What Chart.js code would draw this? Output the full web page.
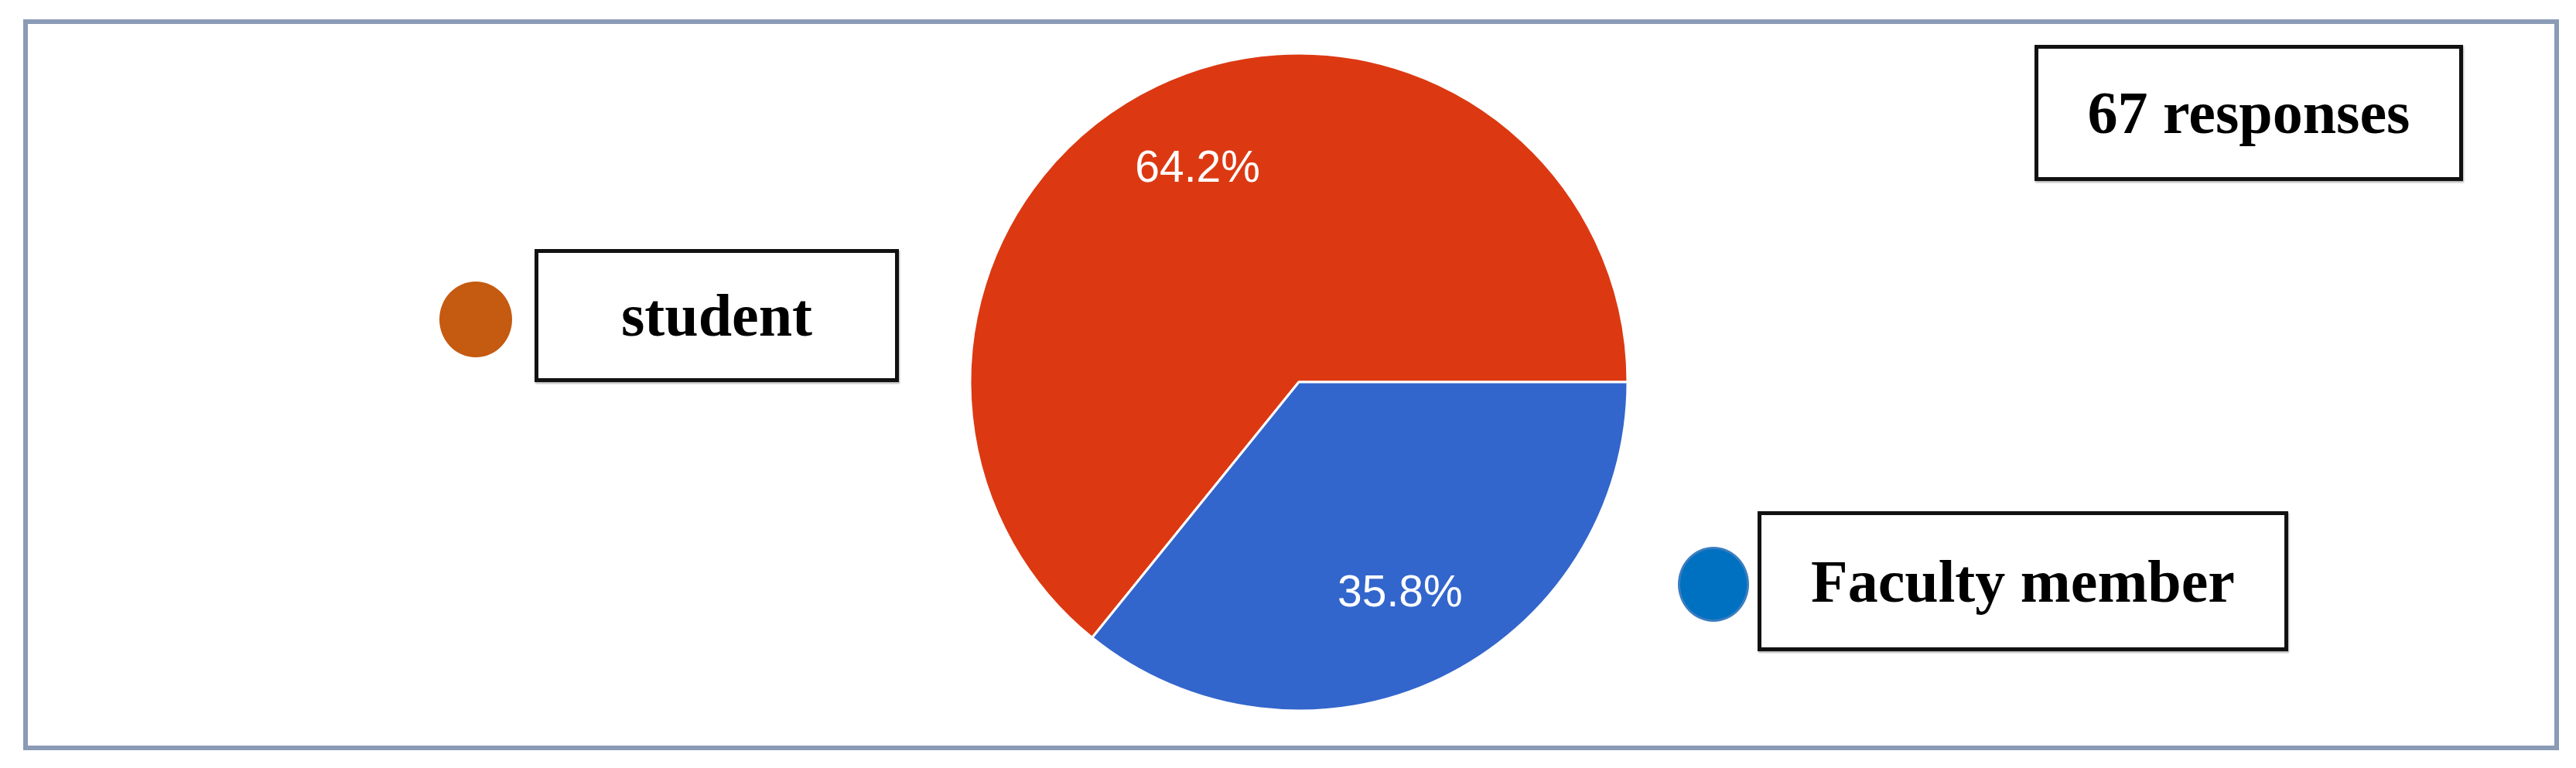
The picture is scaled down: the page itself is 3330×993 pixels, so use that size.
<!DOCTYPE html>
<html>
<head>
<meta charset="utf-8">
<script src="https://cdn.jsdelivr.net/npm/chart.js@4.4.1/dist/chart.umd.min.js"></script>
<style>
  body { margin: 0; background: #fff; }
  #page { position: relative; width: 3330px; height: 993px; overflow: hidden; background: #fff; }
  #frame { position: absolute; left: 30px; top: 25px; width: 3278px; height: 945px; box-sizing: border-box; border: 6px solid #8a9bb6; }
  #pieWrap { position: absolute; left: 1229px; top: 44px; width: 900px; height: 900px; }
  .box {
    position: absolute; box-sizing: border-box; border: 5px solid #111;
    box-shadow: 1px 2px 2px rgba(0, 0, 0, 0.3);
    display: flex; align-items: center; justify-content: center;
    font-family: "Liberation Serif", "Times New Roman", serif; font-weight: bold; font-size: 78px; color: #000;
    background: #fff;
  }
  .dot { position: absolute; border-radius: 50%; box-sizing: border-box; }
</style>
</head>
<body>
<div id="page">
  <div id="frame"></div>
  <div id="pieWrap"><canvas id="myChart" width="900" height="900"></canvas></div>
  <div id="legend"></div>
  <div class="box" id="total" style="left:2630px; top:58px; width:554px; height:176px;"></div>
</div>
<script>
// data
const labels = ["student", "Faculty member"];
const counts = [43, 24]; // 64.2% / 35.8% of 67

const sliceColors = ["#dc3912", "#3366cc"];
const dotColors = ["#c55a11", "#0070c0"];
const dotBorders = ["#c55a11", "#3a7dc0"];

// legend boxes placed by hand like the original figure
const legendPlaces = [
    { box: [691, 322, 471, 172], dot: [568, 364, 94, 98] },
    { box: [2272, 661, 686, 181], dot: [2169, 707, 92, 97] }
];

const total = counts.reduce((a, b) => a + b, 0);
document.getElementById("total").textContent = total + " responses";

const legendEl = document.getElementById("legend");
labels.forEach((lab, i) => {
    const p = legendPlaces[i];
    const dot = document.createElement("div");
    dot.className = "dot";
    dot.style.cssText = `left:${p.dot[0]}px;top:${p.dot[1]}px;width:${p.dot[2]}px;height:${p.dot[3]}px;background:${dotColors[i]};border:3px solid ${dotBorders[i]};`;
    legendEl.appendChild(dot);
    const box = document.createElement("div");
    box.className = "box";
    box.style.cssText = `left:${p.box[0]}px;top:${p.box[1]}px;width:${p.box[2]}px;height:${p.box[3]}px;`;
    box.textContent = lab;
    legendEl.appendChild(box);
});

// percent labels inside slices
const pctLabels = {
    id: "pctLabels",
    afterDatasetsDraw(chart) {
        const c = chart.ctx;
        const meta = chart.getDatasetMeta(0);
        c.save();
        c.fillStyle = "#fff";
        c.font = "57px 'Liberation Sans', Arial, sans-serif";
        c.textAlign = "center";
        c.textBaseline = "middle";
        meta.data.forEach((arc, i) => {
            const mid = (arc.startAngle + arc.endAngle) / 2;
            const r = arc.outerRadius * 0.715;
            const pct = (counts[i] / total * 100).toFixed(1) + "%";
            c.fillText(pct, arc.x + Math.cos(mid) * r, arc.y + Math.sin(mid) * r);
        });
        c.restore();
    }
};

new Chart(document.getElementById("myChart"), {
    type: "pie",
    data: {
        labels: labels,
        datasets: [{
            data: counts,
            backgroundColor: sliceColors,
            borderColor: "#fff",
            borderWidth: 3
        }]
    },
    options: {
        responsive: false,
        animation: false,
        radius: 425,
        rotation: 90 + 360 * counts[1] / total, // blue slice starts at 3 o'clock
        layout: { padding: 0 },
        plugins: {
            legend: { display: false },
            tooltip: { enabled: false }
        }
    },
    plugins: [pctLabels]
});
</script>
</body>
</html>
